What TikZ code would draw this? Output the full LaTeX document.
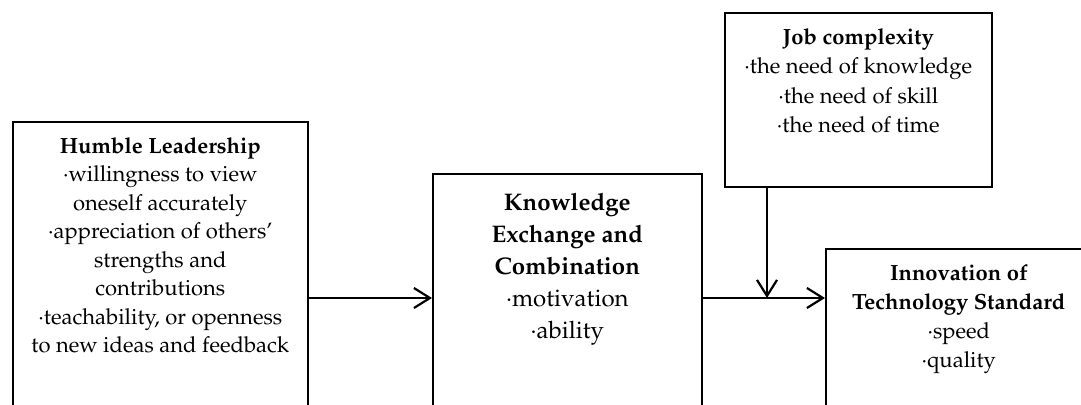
\documentclass[tikz,border=0pt]{standalone}
\usepackage[T1]{fontenc}
\usepackage{mathpazo}
\usetikzlibrary{positioning,arrows.meta}

\newcommand{\bul}{\textperiodcentered}

\tikzset{
	box/.style={draw, line width=0.8pt, anchor=north west, inner sep=0pt},
	txt/.style={align=center, inner sep=0pt, font=\fontsize{11}{14.25}\selectfont},
	bigtxt/.style={align=center, inner sep=0pt, font=\fontsize{12}{16}\selectfont},
	arr/.style={line width=1.1pt, -{Straight Barb[length=8pt,width=10pt,line width=1.1pt]}},
}

\begin{document}
\begin{tikzpicture}[x=0.5pt,y=-0.5pt]
	\useasboundingbox (0,0) rectangle (1081,405) ;
	\clip (0,0) rectangle (1081,405) ;
	% boxes
	\node [box, minimum width=147.5pt, minimum height=150pt] (hl) at (12,121) {} ;
	\node [box, minimum width=134.5pt, minimum height=130pt] (kec) at (432,173) {} ;
	\node [box, minimum width=133.5pt, minimum height=87pt] (job) at (724,12) {} ;
	\node [box, minimum width=133pt, minimum height=100pt] (its) at (825,248) {} ;
	% texts
	\node [txt, below=8pt of hl.north] (hltxt) {\textbf{Humble Leadership}\\ \bul willingness to view\\ oneself accurately\\ \bul appreciation of others'\\ strengths and\\ contributions\\ \bul teachability, or openness\\ to new ideas and feedback} ;
	\node [bigtxt, below=10pt of kec.north] (kectxt) {\textbf{Knowledge}\\ \textbf{Exchange and}\\ \textbf{Combination}\\ \bul motivation\\ \bul ability} ;
	\node [txt, font=\fontsize{11}{14.75}\selectfont, below=8pt of job.north] (jobtxt) {\textbf{Job complexity}\\ \bul the need of knowledge\\ \bul the need of skill\\ \bul the need of time} ;
	\node [txt, font=\fontsize{11}{14.5}\selectfont, below=8pt of its.north] (itstxt) {\textbf{Innovation of}\\ \textbf{Technology Standard}\\ \bul speed\\ \bul quality} ;
	% arrows
	\coordinate (m) at (767,298) ;
	\draw [arr] (hl.east |- m) -- (kec.west |- m) ;
	\draw [arr] (kec.east |- m) -- (its.west |- m) ;
	\draw [arr] (job.south -| m) -- (m) ;
\end{tikzpicture}
\end{document}
